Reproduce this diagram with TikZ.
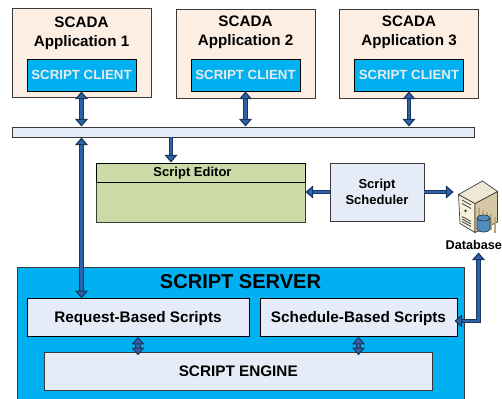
\documentclass[tikz,border=0pt]{standalone}
\usepackage{fontspec}
\setmainfont{Liberation Sans}
\usetikzlibrary{arrows.meta, positioning, calc}
\definecolor{appFill}{HTML}{FDEEE3}
\definecolor{cyanFill}{HTML}{00B0F0}
\definecolor{paleFill}{HTML}{E6ECF7}
\definecolor{editorFill}{HTML}{CBDAA6}
\definecolor{edgeGray}{HTML}{3A3A3A}
\definecolor{arrowEdge}{HTML}{17375E}
\definecolor{arrowFill}{HTML}{2F62A8}
\definecolor{dbTop}{HTML}{EFE8D2}
\definecolor{dbLeft}{HTML}{F5EFDC}
\definecolor{dbRight}{HTML}{D6C8A4}
\definecolor{dbStripe}{HTML}{B8A67E}
\definecolor{dbDrum}{HTML}{4F8DBF}
\tikzstyle{boxes} = [rectangle, draw=edgeGray, line width=0.55pt, inner sep=0pt]
\tikzstyle{app} = [boxes, fill=appFill, minimum width=2.78cm, minimum height=1.78cm]
\tikzstyle{client} = [boxes, draw=black, fill=cyanFill, minimum width=2.18cm, minimum height=0.64cm,
text=white!92!black, font=\fontsize{7.55}{9}\bfseries\selectfont]
\tikzstyle{pale} = [boxes, fill=paleFill, font=\fontsize{8.7}{10}\bfseries\selectfont]
\tikzstyle{title} = [inner sep=0pt, align=center, font=\fontsize{8.65}{10.8}\bfseries\selectfont]
\tikzstyle{small} = [inner sep=0pt, align=center, font=\fontsize{7.4}{9.4}\bfseries\selectfont]
\tikzstyle{line} = [draw=arrowEdge, line width=0.65pt, double=arrowFill, double distance=1.2pt]
\tikzstyle{tip} = [>={Triangle[length=4.4pt, width=7.4pt, fill=arrowFill, line width=0.65pt]}]
\tikzstyle{arrow} = [line, tip, ->]
\tikzstyle{both} = [line, tip, <->]
\tikzstyle{wide} = [both, double distance=2pt, shorten >=-0.06cm]
\begin{document}
\begin{tikzpicture}
    \useasboundingbox (0, 0) rectangle (10.04, -7.98);

    \node (app1) [app] at (1.63, -1.06) {};
    \node (app2) [app, right of=app1, xshift=2.28cm, yshift=-0.01cm] {};
    \node (app3) [app, right of=app2, xshift=2.27cm] {};
    \node (title1) [title, below=0.17cm of app1.north] {SCADA\\Application 1};
    \node (title2) [title, below=0.15cm of app2.north] {SCADA\\Application 2};
    \node (title3) [title, below=0.15cm of app3.north] {SCADA\\Application 3};
    \node (client1) [client] at (1.63, -1.5) {SCRIPT CLIENT};
    \node (client2) [client, right of=client1, xshift=2.28cm] {SCRIPT CLIENT};
    \node (client3) [client, right of=client2, xshift=2.27cm] {SCRIPT CLIENT};

    \node (bus) [boxes, fill=paleFill, minimum width=9.24cm, minimum height=0.2cm] at (4.86, -2.64) {};

    \node (editor) [boxes, fill=editorFill, minimum width=4.17cm, minimum height=1.18cm] at (4.015, -3.85) {};
    \node (editorHead) [boxes, draw=black, fill=editorFill, minimum width=4.17cm, minimum height=0.39cm,
    below=0cm of editor.north] {};
    \node (editorTitle) [small] at (3.85, -3.46) {Script Editor};
    \node (scheduler) [boxes, small, fill=paleFill, minimum width=1.88cm, minimum height=1.16cm] at (7.54, -3.84) {Script\\Scheduler};

    \node (server) [boxes, fill=cyanFill, minimum width=8.94cm, minimum height=2.8cm, anchor=north west] at (0.34, -5.34) {};
    \node (serverTitle) [title, font=\fontsize{11.4}{13}\bfseries\selectfont] at (4.81, -5.64) {SCRIPT SERVER};
    \node (request) [pale, draw=black, minimum width=4.44cm, minimum height=0.75cm, text height=6.2pt, text depth=0.1pt] at (2.76, -6.35) {Request-Based Scripts};
    \node (schedule) [pale, draw=black, minimum width=3.94cm, minimum height=0.75cm, text height=6.2pt, text depth=0.1pt] at (7.17, -6.35) {Schedule-Based Scripts};
    \node (engine) [pale, minimum width=7.75cm, minimum height=0.75cm] at (4.765, -7.43) {SCRIPT ENGINE};

    \node (db) [minimum width=1cm, minimum height=1.04cm, inner sep=0pt] at (9.58, -4.12) {};
    \node (dbLabel) [small, font=\fontsize{7.2}{9}\bfseries\selectfont] at (9.475, -4.9) {Database};
    \filldraw[draw=black!75, line width=0.4pt, fill=dbLeft] (9.17, -3.89) -- (9.50, -4.07) -- (9.50, -4.65) -- (9.20, -4.47) -- cycle;
    \filldraw[draw=black!75, line width=0.4pt, fill=dbRight] (9.50, -4.07) -- (9.95, -3.83) -- (9.95, -4.44) -- (9.50, -4.65) -- cycle;
    \filldraw[draw=black!75, line width=0.4pt, fill=dbTop] (9.17, -3.89) -- (9.65, -3.62) -- (9.95, -3.83) -- (9.50, -4.07) -- cycle;
    \foreach \xpos in {9.58, 9.66, 9.74, 9.82, 9.90}
        \draw[dbStripe, line width=0.7pt] (\xpos, -4.07-0.53*\xpos+0.53*9.5-0.05) -- ++(0, -0.32);
    \foreach \ypos in {-4.0, -4.07, -4.33, -4.38, -4.43}
        \draw[black!70, line width=0.5pt] (9.24, \ypos) -- (9.42, \ypos-0.1);
    \fill[black!70] (9.31, -4.22) circle (0.03);
    \filldraw[draw=black!80, line width=0.4pt, fill=dbDrum] (9.54, -4.36) -- (9.54, -4.58) arc [start angle=180, end angle=360, x radius=0.13cm, y radius=0.06cm] -- (9.80, -4.36) arc [start angle=0, end angle=180, x radius=0.13cm, y radius=0.06cm] -- cycle;
    \draw[black!80, line width=0.4pt] (9.54, -4.36) arc [start angle=180, end angle=360, x radius=0.13cm, y radius=0.06cm];

    \coordinate (busTap) at (3.42, -2.74);
    \coordinate (dbEnd) at (9.57, -5.05);
    \coordinate (scheduleEnd) at ($(schedule.east) + (0, -0.07)$);

    \draw[both] (client1.south) -- (client1.south |- bus.north);
    \draw[both] (client2.south) -- (client2.south |- bus.north);
    \draw[both] (client3.south) -- (client3.south |- bus.north);
    \draw[both] (client1 |- bus.south) -- (client1 |- request.north);
    \draw[arrow] (busTap) -- (busTap |- editor.north);
    \draw[arrow] (scheduler.west) -- (editor.east |- scheduler.west);
    \draw[arrow] (scheduler.east) -- (db.west |- scheduler.east);
    \draw[wide] (request.south) -- (request.south |- engine.north);
    \draw[wide] (schedule.south) -- (schedule.south |- engine.north);
    \draw[both, shorten <=-0.06cm] (scheduleEnd) -| (dbEnd);

\end{tikzpicture}
\end{document}
